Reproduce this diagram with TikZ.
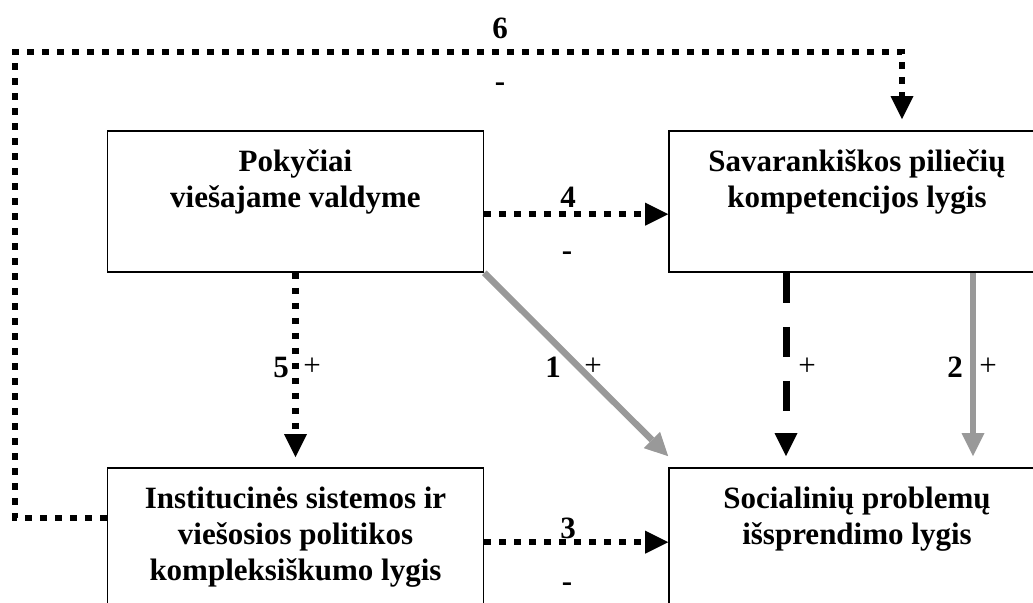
\documentclass[tikz,border=0pt]{standalone}
\usepackage{fontspec}
\setmainfont{Liberation Serif}
\usetikzlibrary{arrows.meta,calc}
\definecolor{arrgray}{RGB}{153,153,153}
\begin{document}
\begin{tikzpicture}[x=0.5pt,y=-0.5pt,
  box/.style={draw, line width=0.8pt, minimum width=188pt, minimum height=70.5pt, inner sep=0pt},
  boxtext/.style={anchor=north, align=center, inner sep=0pt, font=\fontsize{15.5}{18}\selectfont\bfseries},
  num/.style={inner sep=0pt, font=\fontsize{15.5}{18}\selectfont\bfseries},
  sgn/.style={inner sep=0pt, font=\fontsize{15.5}{18}\selectfont},
  tiphead/.style={-{Triangle[length=11.5pt,width=11.5pt,line width=0pt]}},
  dotline/.style={line width=3.25pt, dash pattern=on 3.25pt off 4.25pt, tiphead},
  dashline/.style={line width=3.5pt, dash pattern=on 15pt off 12pt, tiphead},
  grayline/.style={color=arrgray, line width=3.25pt, tiphead}
]
\useasboundingbox (0,0) rectangle (1033,602);
\clip (0,0) rectangle (1033,602);
% boxes
\node[box] (A) at (295.5,201.5) {};
\node[box] (B) at (857,201.5) {};
\node[box] (C) at (295.5,538.5) {};
\node[box] (D) at (857,538.5) {};
% box texts
\node[boxtext] (At) at ($(A.north)+(0,19)$) {Pokyčiai\\viešajame valdyme};
\node[boxtext] (Bt) at ($(B.north)+(0,19)$) {Savarankiškos piliečių\\kompetencijos lygis};
\node[boxtext] (Ct) at ($(C.north)+(0,19)$) {Institucinės sistemos ir\\viešosios politikos\\kompleksiškumo lygis};
\node[boxtext] (Dt) at ($(D.north)+(0,19)$) {Socialinių problemų\\išsprendimo lygis};
% loop corner
\coordinate (loop) at (15,52);
% connectors
\draw[dotline] ($(C.north west)+(0,51)$) -| (loop) -| ($(B.north)+(45,-11)$);
\draw[dotline] ($(A.north east)+(0,84)$) -- ($(B.north west)+(0,84)$);
\draw[dotline] ($(C.north east)+(0,75)$) -- ($(D.north west)+(0,75)$);
\draw[dotline] (A.south) -- ($(C.north)+(0,-10)$);
\draw[grayline] (A.south east) -- ($(D.north west)+(0,-11)$);
\draw[dashline] ($(B.south)+(-71,0)$) -- ($(D.north)+(-71,-11)$);
\draw[grayline] ($(B.south)+(116,0)$) -- ($(D.north)+(116,-11)$);
% labels
\node[num] (l6) at (500,28) {6};
\node[num] (l6s) at (500,87) {-};
\node[num] (l4) at (568,197) {4};
\node[num] (l4s) at (567,256) {-};
\node[num] (l5) at (281,367) {5};
\node[sgn] (l5s) at (312,367) {+};
\node[num] (l1) at (553,367) {1};
\node[sgn] (l1s) at (593,367) {+};
\node[sgn] (lds) at (807,367) {+};
\node[num] (l2) at (955,367) {2};
\node[sgn] (l2s) at (988,367) {+};
\node[num] (l3) at (568,528) {3};
\node[num] (l3s) at (567,587) {-};
\end{tikzpicture}
\end{document}
